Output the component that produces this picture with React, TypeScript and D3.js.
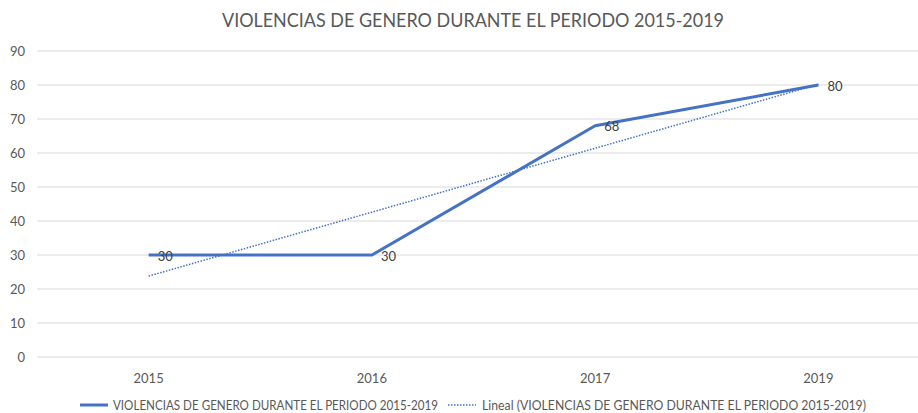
import React from "react";
import * as d3 from "d3";

const categories = ["2015", "2016", "2017", "2019"];
const values = [30, 30, 68, 80];
const yTicks = [0, 10, 20, 30, 40, 50, 60, 70, 80, 90];
const title = "VIOLENCIAS DE GENERO DURANTE EL PERIODO 2015-2019";
const seriesName = "VIOLENCIAS DE GENERO DURANTE EL PERIODO 2015-2019";
const trendName = "Lineal (VIOLENCIAS DE GENERO DURANTE EL PERIODO 2015-2019)";

const W = 918;
const H = 413;
const FONT = "Lato, 'Open Sans', sans-serif";
const TXT = "#595959";
const BLUE = "#4472C4";

export default function App() {
  const x = d3.scaleBand<string>().domain(categories).range([37, 930]);
  const cx = (c: string) => (x(c) as number) + x.bandwidth() / 2;
  const y = d3.scaleLinear().domain([0, 90]).range([357, 51]);

  // linear regression over category index
  const xs = values.map((_, i) => i);
  const mx = d3.mean(xs) as number;
  const my = d3.mean(values) as number;
  const slope =
    d3.sum(xs.map((xi, i) => (xi - mx) * (values[i] - my))) /
    d3.sum(xs.map((xi) => (xi - mx) ** 2));
  const intercept = my - slope * mx;
  const trend = xs.map((xi) => intercept + slope * xi);

  const line = d3
    .line<number>()
    .x((_, i) => cx(categories[i]))
    .y((d) => y(d));

  return (
    <svg width={W} height={H} style={{ position: "absolute", left: 0, top: 0, background: "#fff" }} fontFamily={FONT}>
      <rect width={W} height={H} fill="#fff" />
      <text x={473} y={27} textAnchor="middle" fontSize={19} fill={TXT} textLength={502} lengthAdjust="spacingAndGlyphs">
        {title}
      </text>
      {yTicks.map((t) => (
        <g key={t}>
          <line x1={37} x2={W} y1={y(t)} y2={y(t)} stroke="#D9D9D9" strokeWidth={1} />
          <text x={25} y={y(t) + 4.5} textAnchor="end" fontSize={13} fill={TXT}>
            {t}
          </text>
        </g>
      ))}
      {categories.map((c) => (
        <text key={c} x={cx(c)} y={383} textAnchor="middle" fontSize={13} fill={TXT}>
          {c}
        </text>
      ))}
      <path d={line(values) || ""} fill="none" stroke={BLUE} strokeWidth={3} strokeLinejoin="round" />
      <path d={line(trend) || ""} fill="none" stroke={BLUE} strokeWidth={1.5} strokeDasharray="1.5,1.5" />
      {values.map((v, i) => (
        <text key={i} x={cx(categories[i]) + 9} y={y(v) + 5.5} fontSize={13} fill="#404040">
          {v}
        </text>
      ))}
      <line x1={80} x2={108} y1={405} y2={405} stroke={BLUE} strokeWidth={3} />
      <text x={113} y={409.5} fontSize={13} fill={TXT} textLength={325} lengthAdjust="spacingAndGlyphs">
        {seriesName}
      </text>
      <line x1={448} x2={476} y1={405} y2={405} stroke={BLUE} strokeWidth={1.5} strokeDasharray="1.5,1.5" />
      <text x={482} y={409.5} fontSize={13} fill={TXT} textLength={384} lengthAdjust="spacingAndGlyphs">
        {trendName}
      </text>
    </svg>
  );
}
